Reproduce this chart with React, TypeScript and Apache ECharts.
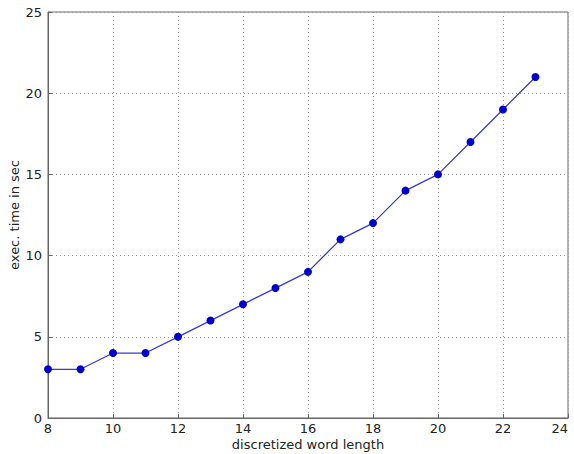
import React, { useEffect, useRef } from "react";
import * as echarts from "echarts";

const wordLength = [8, 9, 10, 11, 12, 13, 14, 15, 16, 17, 18, 19, 20, 21, 22, 23];
const execTime = [3, 3, 4, 4, 5, 6, 7, 8, 9, 11, 12, 14, 15, 17, 19, 21];
const xLabel = "discretized word length";
const yLabel = "exec. time in sec";

export default function App() {
  const ref = useRef<HTMLDivElement>(null);
  useEffect(() => {
    if (!ref.current) return;
    const chart = echarts.init(ref.current, null, { renderer: "svg" });
    const font = "DejaVu Sans";
    chart.setOption({
      animation: false,
      backgroundColor: "#ffffff",
      grid: {
        left: 48,
        right: 6,
        top: 12,
        bottom: 36,
        containLabel: false,
        outerBoundsMode: "none",
        show: true,
        borderColor: "#666",
        borderWidth: 1,
      },
      xAxis: {
        type: "value",
        min: 8,
        max: 24,
        interval: 2,
        name: xLabel,
        nameLocation: "middle",
        nameGap: 20,
        nameMoveOverlap: false,
        nameTextStyle: { fontFamily: font, fontSize: 13, color: "#222" },
        axisLine: { show: true, lineStyle: { color: "#666" } },
        axisTick: { show: true, inside: true, length: 4, lineStyle: { color: "#666" } },
        axisLabel: { fontFamily: font, fontSize: 13, color: "#222", margin: 4, alignMaxLabel: "right" },
        splitLine: { show: true, lineStyle: { type: [1, 3], color: "#999" } },
      },
      yAxis: {
        type: "value",
        min: 0,
        max: 25,
        interval: 5,
        name: yLabel,
        nameLocation: "middle",
        nameGap: 27,
        nameMoveOverlap: false,
        nameTextStyle: { fontFamily: font, fontSize: 13, color: "#222" },
        axisLine: { show: true, lineStyle: { color: "#666" } },
        axisTick: { show: true, inside: true, length: 4, lineStyle: { color: "#666" } },
        axisLabel: { fontFamily: font, fontSize: 13, color: "#222", margin: 6 },
        splitLine: { show: true, lineStyle: { type: [1, 3], color: "#999" } },
      },
      series: [
        {
          type: "line",
          data: wordLength.map((x, i) => [x, execTime[i]]),
          symbol: "circle",
          symbolSize: 8,
          lineStyle: { color: "#3a3ad0", width: 1.3 },
          itemStyle: { color: "#0000cc" },
        },
      ],
    });
    return () => chart.dispose();
  }, []);
  return (
    <div
      ref={ref}
      style={{ position: "absolute", left: 0, top: 0, width: 574, height: 454 }}
    />
  );
}
